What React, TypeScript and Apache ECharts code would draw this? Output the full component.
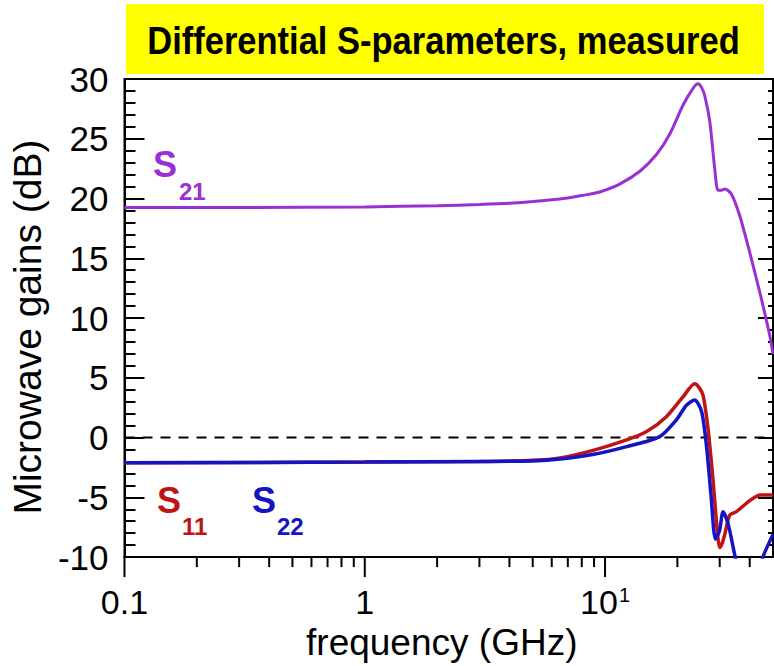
import React, { useEffect, useRef } from 'react';
import * as echarts from 'echarts';

// Frequencies in GHz, gains in dB
const freqS21 = [0.1, 0.3, 1, 2, 3, 4, 5, 6, 7, 8, 9.5, 11.5, 14, 16.4, 18.6, 21.1, 23.2, 24.4, 25.2, 26.0, 27.3, 28.6, 29.5, 30.5, 31.5, 33.5, 36.3, 40, 44, 48.4, 50];
const s21 = [19.25, 19.25, 19.3, 19.4, 19.5, 19.6, 19.75, 19.9, 20.05, 20.25, 20.55, 21.2, 22.3, 23.7, 25.4, 27.8, 29.2, 29.6, 29.3, 28.6, 26.4, 22.5, 20.7, 20.7, 20.8, 20.4, 18.6, 15.5, 12.2, 8.6, 7.0];

const freqS11 = [0.1, 1, 3, 5, 6.5, 9, 12.3, 14.9, 18, 21.1, 23.6, 24.6, 25.6, 26.8, 28.1, 29.5, 30.1, 30.8, 31.5, 33, 35.2, 38.7, 42, 44, 50];
const s11 = [-2.1, -2.05, -2.0, -1.9, -1.7, -1.05, -0.2, 0.5, 1.75, 3.4, 4.5, 4.2, 3.5, 0.8, -3.4, -8.4, -9.2, -8.8, -8.1, -6.5, -6.2, -5.5, -5.0, -4.8, -4.8];

const freqS22 = [0.1, 1, 3, 5, 6.5, 9, 12.3, 16.9, 19.8, 21.8, 23.6, 25.2, 26.4, 27.6, 28.8, 29.9, 31.0, 32.6, 34.9, 37, 40, 43, 45.4, 50];
const s22 = [-2.1, -2.05, -2.0, -1.95, -1.8, -1.4, -0.76, 0.08, 1.47, 2.7, 3.15, 2.2, -0.6, -4.8, -8.5, -7.85, -6.2, -7.3, -10.1, -12, -13, -12, -10, -8.1];

// Zero reference line (dashed)
const zeroLineFreq = [0.1, 50];
const zeroLineValue = [0, 0];

const xMajorTicks = [0.1, 1, 10];
const xMinorTicks = [0.2, 0.3, 0.4, 0.5, 0.6, 0.7, 0.8, 0.9, 2, 3, 4, 5, 6, 7, 8, 9, 20, 30, 40];

const titleText = 'Differential S-parameters, measured';
const xName = 'frequency (GHz)';
const yName = 'Microwave gains (dB)';

const PURPLE = '#9A30D4';
const RED = '#C01414';
const BLUE = '#1414C4';
const FONT = '"Liberation Sans", Arial, sans-serif';

const zip = (xs: number[], ys: number[]) => xs.map((x, i) => [x, ys[i]]);

export default function App() {
  const ref = useRef<HTMLDivElement>(null);
  useEffect(() => {
    const chart = echarts.init(ref.current!, undefined, { renderer: 'svg' });
    const tickData = [
      ...xMajorTicks.map((v) => [v, 1]),
      ...xMinorTicks.map((v) => [v, 0]),
    ];
    const option: any = {
      animation: false,
      backgroundColor: '#ffffff',
      grid: { left: 123, right: 1, top: 79, bottom: 107, show: true, borderColor: '#000', borderWidth: 2, containLabel: false },
      xAxis: {
        type: 'log',
        logBase: 10,
        min: 0.1,
        max: 50,
        name: xName,
        nameLocation: 'middle',
        nameGap: 66,
        nameTextStyle: { fontSize: 37, fontFamily: FONT, color: '#000', padding: [0, 14, 0, 0] },
        axisLine: { show: true, onZero: false, lineStyle: { color: '#000', width: 2 } },
        axisTick: { show: false },
        minorTick: { show: false },
        splitLine: { show: false },
        axisLabel: {
          margin: 28,
          fontSize: 34,
          fontFamily: FONT,
          color: '#000',
          showMaxLabel: false,
          formatter: (v: number) => {
            const l = Math.round(Math.log10(v) * 1000) / 1000;
            if (l === -1) return '0.1';
            if (l === 0) return '1';
            if (l === 1) return '{a|10}{s|1}';
            return '';
          },
          rich: {
            a: { fontSize: 34, fontFamily: FONT, color: '#000' },
            s: { fontSize: 20, fontFamily: FONT, color: '#000', verticalAlign: 'top', padding: [0, 0, 14, 1] },
          },
        },
      },
      yAxis: [
        {
          type: 'value',
          min: -10,
          max: 30,
          interval: 5,
          name: yName,
          nameLocation: 'middle',
          nameGap: 76,
          nameTextStyle: { fontSize: 39, fontFamily: FONT, color: '#000', padding: [0, 18, 0, 0] },
          axisLine: { show: true, onZero: false, lineStyle: { color: '#000', width: 2 } },
          axisTick: { show: true, inside: true, length: 20, lineStyle: { color: '#000', width: 2 } },
          minorTick: { show: true, splitNumber: 5, length: 11, lineStyle: { color: '#000', width: 2 } },
          splitLine: { show: false },
          axisLabel: { margin: 16, fontSize: 35, fontFamily: FONT, color: '#000' },
        },
        {
          type: 'value',
          position: 'right',
          min: -10,
          max: 30,
          interval: 5,
          axisLine: { show: true, onZero: false, lineStyle: { color: '#000', width: 2 } },
          axisTick: { show: true, inside: true, length: 15, lineStyle: { color: '#000', width: 2 } },
          minorTick: { show: true, splitNumber: 5, length: 5, lineStyle: { color: '#000', width: 2 } },
          splitLine: { show: false },
          axisLabel: { show: false },
        },
      ],
      series: [
        {
          name: 'zero',
          type: 'line',
          data: zip(zeroLineFreq, zeroLineValue),
          showSymbol: false,
          silent: true,
          lineStyle: { color: '#000', width: 2, type: [10, 8] },
          itemStyle: { color: '#000' },
          z: 1,
        },
        {
          name: 'S21',
          type: 'line',
          data: zip(freqS21, s21),
          showSymbol: false,
          smooth: 0.25,
          lineStyle: { color: PURPLE, width: 3 },
          itemStyle: { color: PURPLE },
          clip: true,
          z: 2,
        },
        {
          name: 'S11',
          type: 'line',
          data: zip(freqS11, s11),
          showSymbol: false,
          smooth: 0.25,
          lineStyle: { color: RED, width: 3.5 },
          itemStyle: { color: RED },
          clip: true,
          z: 2,
        },
        {
          name: 'S22',
          type: 'line',
          data: zip(freqS22, s22),
          showSymbol: false,
          smooth: 0.25,
          lineStyle: { color: BLUE, width: 3.5 },
          itemStyle: { color: BLUE },
          clip: true,
          z: 2,
        },
        {
          name: 'xticks',
          type: 'custom',
          silent: true,
          clip: false,
          data: tickData,
          encode: { x: 0 },
          renderItem: (params: any, api: any) => {
            const v = api.value(0);
            const major = api.value(1) === 1;
            const p = api.coord([v, -10]);
            return {
              type: 'line',
              shape: { x1: p[0], y1: p[1], x2: p[0], y2: p[1] + (major ? 20 : 10) },
              style: { stroke: '#000', lineWidth: 2 },
            };
          },
        },
      ],
      graphic: [
        { type: 'rect', shape: { x: 126, y: 4, width: 638, height: 70 }, style: { fill: '#FFFF00' }, silent: true },
        {
          type: 'text', x: 443.5, y: 41, scaleX: 0.885,
          style: { text: titleText, font: `bold 39px ${FONT}`, fill: '#000', textAlign: 'center', textVerticalAlign: 'middle' },
        },
        { type: 'text', x: 153, y: 164.5, style: { text: 'S', font: `bold 36px ${FONT}`, fill: PURPLE, textAlign: 'left', textVerticalAlign: 'middle' } },
        { type: 'text', x: 179, y: 191, style: { text: '21', font: `bold 24px ${FONT}`, fill: PURPLE, textAlign: 'left', textVerticalAlign: 'middle' } },
        { type: 'text', x: 157, y: 500, style: { text: 'S', font: `bold 36px ${FONT}`, fill: RED, textAlign: 'left', textVerticalAlign: 'middle' } },
        { type: 'text', x: 182, y: 526, style: { text: '11', font: `bold 24px ${FONT}`, fill: RED, textAlign: 'left', textVerticalAlign: 'middle' } },
        { type: 'text', x: 252, y: 500, style: { text: 'S', font: `bold 36px ${FONT}`, fill: BLUE, textAlign: 'left', textVerticalAlign: 'middle' } },
        { type: 'text', x: 277, y: 526, style: { text: '22', font: `bold 24px ${FONT}`, fill: BLUE, textAlign: 'left', textVerticalAlign: 'middle' } },
      ],
    };
    chart.setOption(option);
    return () => chart.dispose();
  }, []);
  return <div ref={ref} style={{ position: 'absolute', left: 0, top: 0, width: 774, height: 666, background: '#fff' }} />;
}
